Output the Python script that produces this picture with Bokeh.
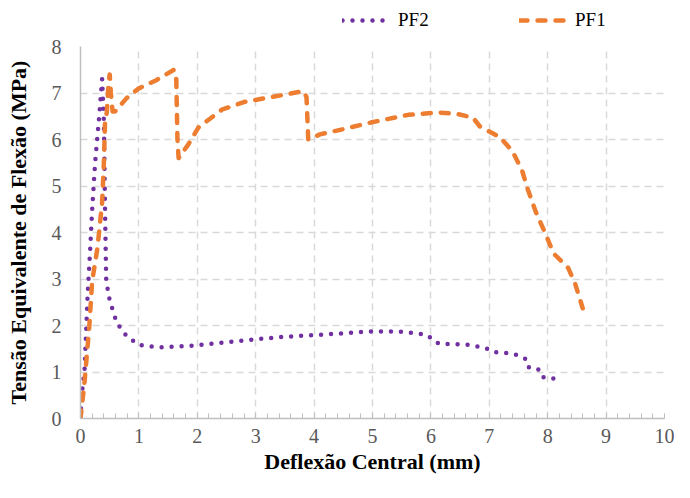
from bokeh.plotting import figure
from bokeh.layouts import column
from bokeh.models import Legend, LegendItem, Range1d, FixedTicker
from bokeh.embed import file_html
from bokeh.resources import INLINE

# ---- data ----
pf2_x = [0, 0.02, 0.07, 0.12, 0.17, 0.2, 0.25, 0.32, 0.37, 0.4, 0.42, 0.44, 0.5, 0.62,
         0.79, 1.0, 1.35, 1.85, 2.18, 2.64, 2.97, 3.42, 3.93, 4.49, 4.94, 5.45, 5.78,
         5.95, 6.05, 6.17, 6.45, 6.67, 6.95, 7.06, 7.38, 7.51, 7.65, 7.68, 7.85, 7.9,
         7.98, 8.17]
pf2_y = [0, 0.5, 1.07, 2.6, 3.74, 4.5, 5.5, 6.5, 7.3, 6.4, 4.5, 2.96, 2.54, 2.06,
         1.77, 1.58, 1.53, 1.56, 1.6, 1.66, 1.7, 1.75, 1.79, 1.83, 1.87, 1.87, 1.83,
         1.79, 1.66, 1.6, 1.6, 1.58, 1.51, 1.43, 1.4, 1.35, 1.26, 1.09, 1.05, 0.9,
         0.86, 0.86]

pf1_x = [0, 0.07, 0.15, 0.2, 0.29, 0.37, 0.4, 0.42, 0.45, 0.48, 0.5, 0.52, 0.55, 0.59,
         0.79, 1.0, 1.29, 1.6, 1.64, 1.66, 1.68, 1.85, 2.02, 2.42, 2.81, 3.26, 3.82,
         3.87, 3.9, 4.1, 4.49, 4.99, 5.61, 6.12, 6.45, 6.72, 6.84, 7.18, 7.39, 7.56,
         7.65, 7.8, 7.97, 8.1, 8.35, 8.47, 8.6]
pf1_y = [0, 0.8, 1.97, 2.96, 3.66, 4.64, 5.48, 6.39, 6.58, 7.2, 7.4, 7.0, 6.6, 6.6,
         6.89, 7.1, 7.27, 7.5, 7.3, 6.0, 5.6, 5.9, 6.26, 6.64, 6.81, 6.91, 7.04,
         6.91, 6.0, 6.11, 6.22, 6.37, 6.53, 6.58, 6.55, 6.47, 6.28, 6.05, 5.76, 5.34,
         4.96, 4.43, 3.95, 3.55, 3.24, 2.9, 2.37]

series_names = ["PF2", "PF1"]
x_ticks = list(range(0, 11))
y_ticks = list(range(0, 9))

FONT = "Liberation Serif"
GRID = "#D9D9D9"
AXIS = "#BFBFBF"
C_PF2 = "#7030A0"
C_PF1 = "#ED7D31"
STY2 = dict(line_color=C_PF2, line_width=4.5, line_dash="0 10",
            line_cap="round", line_join="round")
STY1 = dict(line_color=C_PF1, line_width=4.5, line_dash="8 10",
            line_cap="round", line_join="round")

# ---- main plot ----
p = figure(width=674, height=448, output_backend="svg", toolbar_location=None,
           x_range=Range1d(0, 10), y_range=Range1d(0, 8),
           min_border_left=80, min_border_right=10, min_border_top=12, min_border_bottom=64)
p.outline_line_color = None
p.background_fill_color = "white"
p.border_fill_color = "white"

for g in (p.xgrid[0], p.ygrid[0]):
    g.grid_line_color = GRID
    g.grid_line_dash = "7 5"
    g.grid_line_width = 1.5

p.xaxis.ticker = FixedTicker(ticks=x_ticks,
                             minor_ticks=[i / 5 for i in range(0, 51)])
p.yaxis.ticker = FixedTicker(ticks=y_ticks)

for ax in (p.xaxis[0], p.yaxis[0]):
    ax.axis_line_color = AXIS
    ax.axis_line_width = 1.5
    ax.major_label_text_font = FONT
    ax.major_label_text_font_size = "20px"
    ax.major_label_text_color = "#595959"
    ax.axis_label_text_font = FONT
    ax.axis_label_text_font_style = "bold"
    ax.axis_label_text_color = "#000000"

p.xaxis.major_tick_in = 5
p.xaxis.major_tick_out = 0
p.xaxis.minor_tick_in = 5
p.xaxis.minor_tick_out = 0
p.xaxis.major_tick_line_color = AXIS
p.xaxis.minor_tick_line_color = AXIS
p.xaxis.major_label_standoff = 10
p.xaxis.axis_label = "Deflexão Central (mm)"
p.xaxis.axis_label_text_font_size = "22px"
p.xaxis.axis_label_standoff = 3

p.yaxis.major_tick_line_color = None
p.yaxis.minor_tick_line_color = None
p.yaxis.major_label_standoff = 13
p.yaxis.axis_label = "Tensão Equivalente de Flexão (MPa)"
p.yaxis.axis_label_text_font_size = "22px"
p.yaxis.axis_label_standoff = 18

p.line(pf2_x, pf2_y, **STY2)
p.line(pf1_x, pf1_y, **STY1)

# ---- legend strip above the plot ----
lg = figure(width=674, height=34, output_backend="svg", toolbar_location=None,
            x_range=Range1d(0, 1), y_range=Range1d(0, 1),
            x_axis_type=None, y_axis_type=None,
            min_border_left=0, min_border_right=0, min_border_top=0, min_border_bottom=0)
lg.outline_line_color = None
lg.xgrid.visible = False
lg.ygrid.visible = False
# legend-only renderers: their points lie outside the strip's range, so only the legend shows them
d2 = lg.line([-2, -1], [-2, -1], **STY2)
d1 = lg.line([-2, -1], [-2, -1], **STY1)
legend = Legend(items=[LegendItem(label=series_names[0], renderers=[d2]),
                       LegendItem(label=series_names[1], renderers=[d1])],
                orientation="horizontal", location=(262, 3),
                glyph_width=48, label_standoff=8, label_width=40, spacing=81,
                label_text_font=FONT, label_text_font_size="19px",
                label_text_color="#000000",
                border_line_color=None, background_fill_alpha=0,
                padding=0, margin=0)
lg.add_layout(legend, "center")

layout = column(lg, p, spacing=0)
open("out.html", "w").write(file_html(layout, INLINE))
